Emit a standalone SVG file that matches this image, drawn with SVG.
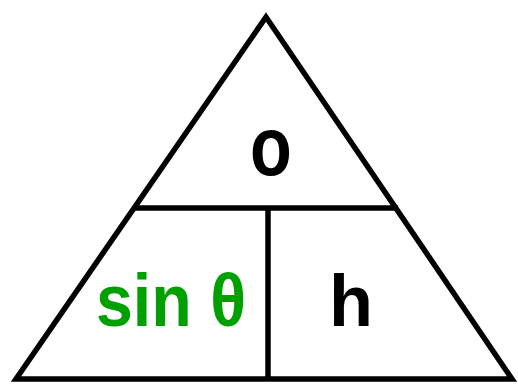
<svg xmlns="http://www.w3.org/2000/svg" width="518" height="384" viewBox="0 0 518 384">
<style>
.ln{stroke:#000;stroke-width:5.5;fill:none;stroke-linejoin:miter}
.t{font-family:"Liberation Sans",Arial,sans-serif;font-weight:bold;text-anchor:middle}
</style>
<rect width="518" height="384" fill="#fff"/>
<g id="connectors">
<polygon class="ln" points="266,17 16,379 512,379"/>
<line class="ln" x1="134" y1="208" x2="398" y2="208"/>
<line class="ln" x1="268" y1="208" x2="268" y2="379"/>
</g>
<g id="node-o"><text class="t" transform="translate(271,175) scale(0.9,1.1)" x="0" y="0" font-size="76" fill="#000">o</text></g>
<g id="node-sin"><text class="t" x="171" y="326" font-size="74" fill="#00a000" textLength="150" lengthAdjust="spacingAndGlyphs">sin θ</text></g>
<g id="node-h"><text class="t" x="351" y="326" font-size="72" fill="#000">h</text></g>
</svg>
